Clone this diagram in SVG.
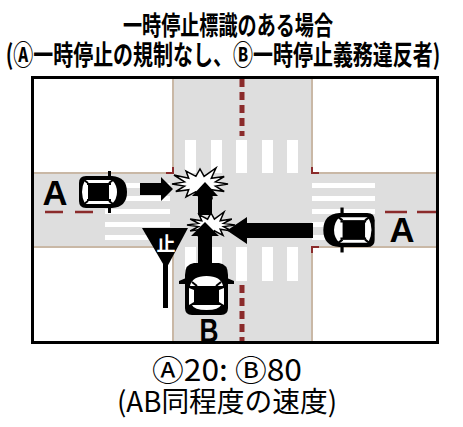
<svg xmlns="http://www.w3.org/2000/svg" width="463" height="427" viewBox="0 0 463 427">
<style>
.block{fill:#ffffff}
.curb{stroke:#c9b8a6;stroke-width:2;fill:none}
.corner{stroke:#8b2b2b;stroke-width:2;fill:none}
.stripe{fill:#ffffff}
.cl{stroke:#8b2b2b;fill:none}
.burst{fill:#ffffff;stroke:#000;stroke-width:1.5;stroke-linejoin:miter}
.arrow{fill:#000}
.title{font-family:"Noto Sans CJK JP","Noto Sans",sans-serif;font-weight:700;fill:#000}
.cap{font-family:"Noto Sans CJK JP","Noto Sans",sans-serif;font-weight:400;fill:#000}
.lbl{font-family:"Liberation Sans","Noto Sans",sans-serif;font-weight:700;fill:#000;text-anchor:middle}
</style>
<defs>
<g id="carSide">
<path d="M -17,-16 L 9,-16 Q 24,-15 24,0 Q 24,15 9,16 L -17,16 Q -24,16 -24,9 L -24,-9 Q -24,-16 -17,-16 Z" fill="#000"/>
<rect x="5" y="-21" width="3" height="6" fill="#000"/>
<rect x="5" y="15" width="3" height="6" fill="#000"/>
<path d="M -18,-12 L 9,-12 Q 14,-7 14,0 Q 14,7 9,12 L -18,12 Q -21,6 -21,0 Q -21,-6 -18,-12 Z" fill="#fff"/>
<rect x="-15" y="-9" width="21" height="18" fill="#000"/>
<path d="M -15,-9 L -19,-12 M 6,-9 L 10,-12 M -15,9 L -19,12 M 6,9 L 10,12" stroke="#000" stroke-width="2"/>
<rect x="-16" y="-9" width="24" height="2" fill="#000"/>
<rect x="-16" y="7" width="24" height="2" fill="#000"/>
</g>
</defs>

<g id="road">
<rect x="32" y="77" width="406" height="266" fill="#dedede"/>
<rect class="block" x="32" y="77" width="141" height="96"/>
<rect class="block" x="312" y="77" width="126" height="96"/>
<rect class="block" x="32" y="247" width="141" height="96"/>
<rect class="block" x="312" y="247" width="126" height="96"/>
<path class="curb" d="M 173,77 V 173 H 32 M 312,77 V 173 H 438 M 173,343 V 247 H 32 M 312,343 V 247 H 438"/>
<path class="corner" d="M 166,173 H 173 V 167 M 319,173 H 312 V 167 M 319,247 H 312 V 253 M 166,247 H 173 V 253"/>
<g id="crosswalk-n">
<rect class="stripe" x="185" y="140" width="11" height="33"/>
<rect class="stripe" x="211" y="140" width="11" height="33"/>
<rect class="stripe" x="236" y="140" width="11" height="33"/>
<rect class="stripe" x="262" y="140" width="11" height="33"/>
<rect class="stripe" x="287" y="140" width="11" height="33"/>
</g>
<g id="crosswalk-s">
<rect class="stripe" x="185" y="247" width="11" height="34"/>
<rect class="stripe" x="211" y="247" width="11" height="34"/>
<rect class="stripe" x="236" y="247" width="11" height="34"/>
<rect class="stripe" x="262" y="247" width="11" height="34"/>
<rect class="stripe" x="287" y="247" width="11" height="34"/>
</g>
<g id="crosswalk-w">
<rect class="stripe" x="105" y="183" width="65" height="5"/>
<rect class="stripe" x="105" y="196" width="65" height="5"/>
<rect class="stripe" x="105" y="209" width="65" height="5"/>
<rect class="stripe" x="105" y="222" width="65" height="5"/>
<rect class="stripe" x="105" y="235" width="65" height="5"/>
</g>
<g id="crosswalk-e">
<rect class="stripe" x="312" y="183" width="63" height="5"/>
<rect class="stripe" x="312" y="196" width="63" height="5"/>
<rect class="stripe" x="312" y="209" width="63" height="5"/>
<rect class="stripe" x="312" y="222" width="63" height="5"/>
<rect class="stripe" x="312" y="235" width="63" height="5"/>
</g>
<path class="cl" stroke-width="5" stroke-dasharray="8 5" d="M 242,79 V 136 M 242,285 V 343"/>
<path class="cl" stroke-width="2.5" stroke-dasharray="18 12" d="M 45,212 H 105"/>
<path class="cl" stroke-width="2.5" stroke-dasharray="22 10" d="M 385,212 H 438"/>
</g>

<g id="collision1">
<polygon class="burst" points="228,184 215.5,186.1 224.2,191.5 211.3,189.7 212,198 204.1,191.7 200,199 195.9,191.7 186,197 188.7,189.7 175.8,191.5 184.5,186.1 172,184 184.5,181.9 174,175 188.7,178.3 186,171 195.9,176.3 200,169 204.1,176.3 216,168 211.3,178.3 224.2,176.5 215.5,181.9"/>
</g>
<g id="collision2">
<polygon class="burst" points="235,225 223.6,226.6 231.8,231 220.2,229.2 223,235.4 214.4,230.8 211,237 207.6,230.8 199,235.4 201.8,229.2 190.2,231 198.4,226.6 187,225 198.4,223.4 190.2,219 201.8,220.8 199,214.6 207.6,219.2 211,213 214.4,219.2 224,212 220.2,220.8 231.8,219 223.6,223.4"/>
</g>

<g id="connectors">
<polygon class="arrow" points="140,183 161,183 161,177 173,189 161,201 161,195 140,195"/>
<polygon class="arrow" points="313,223 247,223 247,217 227,230.5 247,244 247,238 313,238"/>
<polygon class="arrow" points="198,263 198,236 191,236 205,222 219,236 212,236 212,263"/>
<polygon class="arrow" points="198,215 198,196 192,196 205,182 218,196 212,196 212,215"/>
</g>

<g id="carA-west">
<use href="#carSide" transform="translate(103,192)"/>
<text class="lbl" x="55" y="205" font-size="35" textLength="25" lengthAdjust="spacingAndGlyphs">A</text>
</g>
<g id="carA-east">
<use href="#carSide" transform="translate(349,230) rotate(180) scale(1.07)"/>
<text class="lbl" x="402" y="242" font-size="35" textLength="25" lengthAdjust="spacingAndGlyphs">A</text>
</g>
<g id="carB">
<path d="M 194,263 L 219,263 Q 228,264 228,275 L 228,308 Q 228,315 221,315 L 192,315 Q 185,315 185,308 L 185,275 Q 185,264 194,263 Z" fill="#000"/>
<polygon points="186,278 179,281 179,284 186,284" fill="#000"/>
<polygon points="227,278 234,281 234,284 227,284" fill="#000"/>
<path d="M 190,286 Q 192,276 206.5,276 Q 221,276 223,286 Z" fill="#fff"/>
<path d="M 189,288 L 194,290 L 194,302 L 189,305 Z" fill="#fff"/>
<path d="M 224,288 L 219,290 L 219,302 L 224,305 Z" fill="#fff"/>
<path d="M 192,305 L 221,305 Q 219,310 206.5,310 Q 194,310 192,305 Z" fill="#fff"/>
<path d="M 197,286 L 192,282 M 216,286 L 221,282" stroke="#000" stroke-width="2"/>
<text class="lbl" x="209" y="342" font-size="33" textLength="19" lengthAdjust="spacingAndGlyphs">B</text>
</g>

<g id="stop-sign">
<polygon points="142,228 188,228 166,269" fill="#000"/>
<rect x="163" y="262" width="5" height="46" fill="#000"/>
<text x="166" y="251" font-size="19" font-weight="700" fill="#fff" text-anchor="middle" font-family="'Noto Sans CJK JP',sans-serif">止</text>
</g>

<rect x="32.5" y="77.5" width="405" height="265" fill="none" stroke="#000" stroke-width="3"/>

<g id="titles">
<text class="title" x="228" y="35" font-size="26" text-anchor="middle" textLength="210" lengthAdjust="spacingAndGlyphs">一時停止標識のある場合</text>
<text class="title" transform="translate(223,65) scale(0.74,1)" x="0" y="0" font-size="27" text-anchor="middle">(Ⓐ一時停止の規制なし、Ⓑ一時停止義務違反者)</text>
<text class="cap" x="227" y="381" font-size="30" text-anchor="middle" textLength="150" lengthAdjust="spacingAndGlyphs">Ⓐ20: Ⓑ80</text>
<text class="cap" x="227" y="412" font-size="28" text-anchor="middle" textLength="220" lengthAdjust="spacingAndGlyphs">(AB同程度の速度)</text>
</g>
</svg>
